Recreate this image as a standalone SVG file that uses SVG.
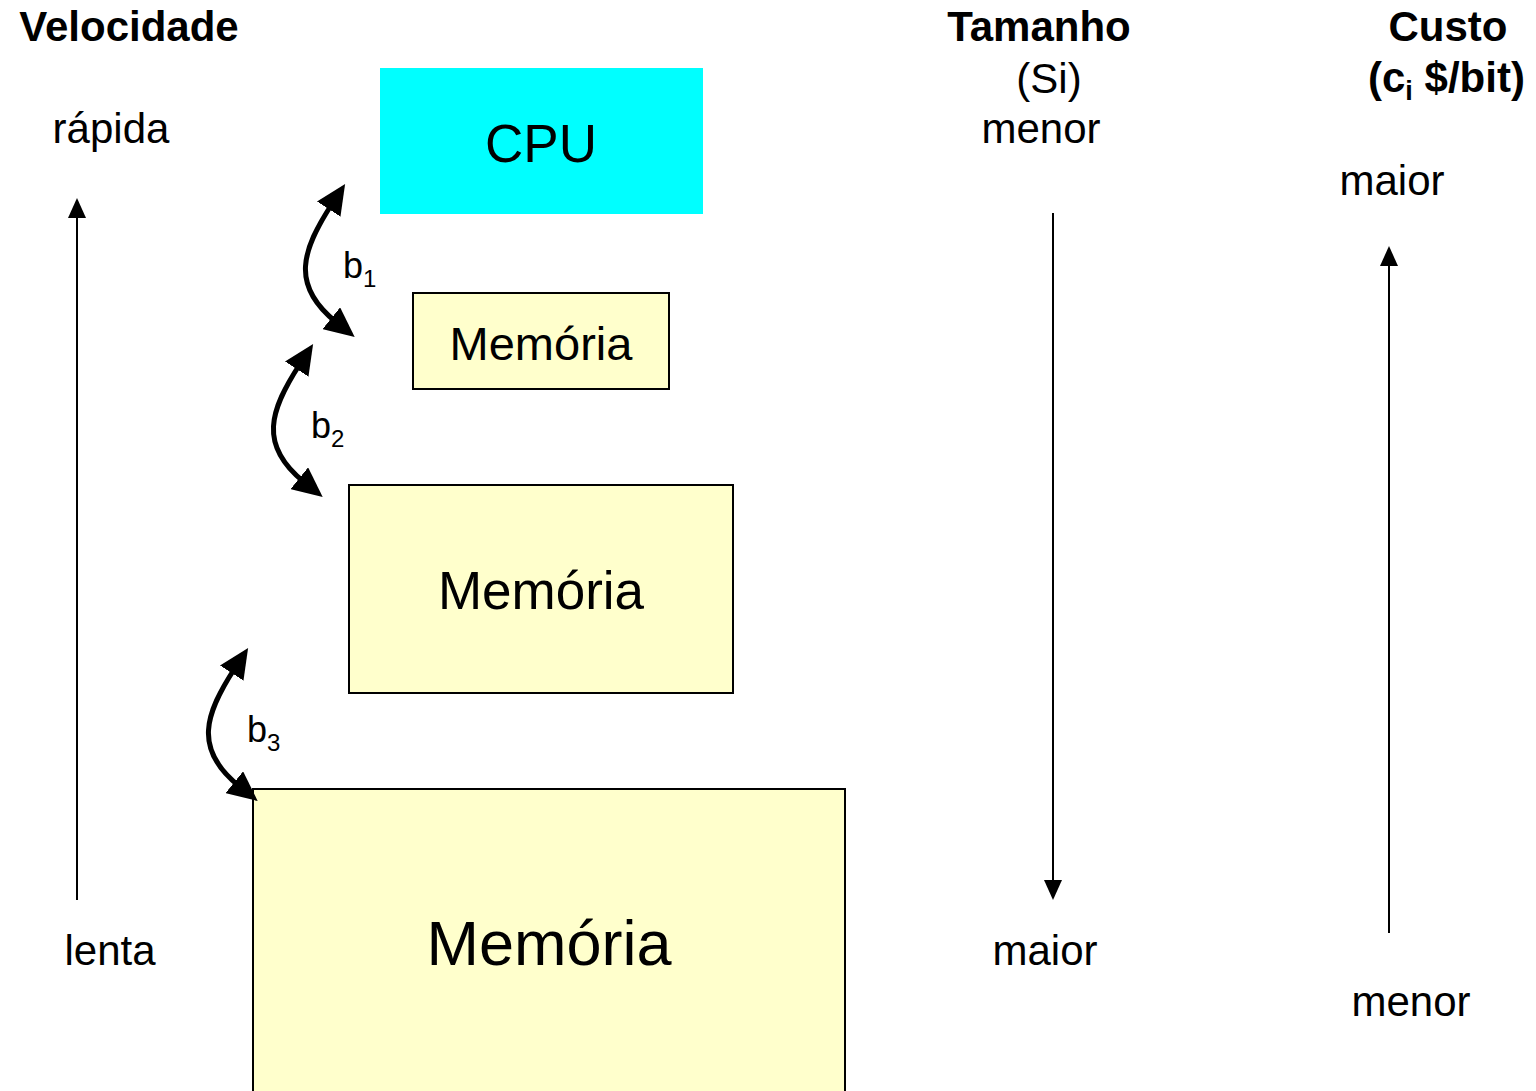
<svg xmlns="http://www.w3.org/2000/svg" width="1536" height="1091" viewBox="0 0 1536 1091">
<style>
text{font-family:"Liberation Sans",Arial,sans-serif;fill:#000}
.b{font-weight:bold;font-size:42px}
.r{font-size:42px}
.mem{fill:#FFFFCC;stroke:#000;stroke-width:2}
.ax{stroke:#000;stroke-width:2;fill:none}
.cv{stroke:#000;stroke-width:5;fill:none}
</style>
<defs>
<marker id="ah" markerUnits="userSpaceOnUse" markerWidth="20" markerHeight="20" refX="0" refY="9" orient="auto" viewBox="0 0 20 18">
<path d="M0,0 L20,9 L0,18 z" fill="#000"/>
</marker>
<marker id="bh" markerUnits="userSpaceOnUse" markerWidth="30" markerHeight="28" refX="6" refY="14" orient="auto-start-reverse" viewBox="0 0 30 28">
<path d="M0,0 L30,14 L0,28 z" fill="#000"/>
</marker>
</defs>
<rect width="1536" height="1091" fill="#fff"/>
<g id="labels">
<text class="b" x="129" y="41" text-anchor="middle">Velocidade</text>
<text class="r" x="111" y="143" text-anchor="middle">rápida</text>
<text class="r" x="110" y="965" text-anchor="middle">lenta</text>
<text class="b" x="1039" y="41" text-anchor="middle">Tamanho</text>
<text class="r" x="1049" y="93" text-anchor="middle">(Si)</text>
<text class="r" x="1041" y="143" text-anchor="middle">menor</text>
<text class="r" x="1045" y="965" text-anchor="middle">maior</text>
<text class="b" x="1448" y="41" text-anchor="middle">Custo</text>
<text class="b" x="1368" y="92">(c<tspan font-size="27" dy="8">i</tspan><tspan dy="-8"> $/bit)</tspan></text>
<text class="r" x="1392" y="195" text-anchor="middle">maior</text>
<text class="r" x="1411" y="1016" text-anchor="middle">menor</text>
</g>
<g id="cpu">
<rect x="380" y="68" width="323" height="146" fill="#00FFFF"/>
<text x="541" y="162" font-size="53" text-anchor="middle">CPU</text>
</g>
<g id="mem1">
<rect class="mem" x="413" y="293" width="256" height="96"/>
<text x="541" y="360" font-size="47" text-anchor="middle">Memória</text>
</g>
<g id="mem2">
<rect class="mem" x="349" y="485" width="384" height="208"/>
<text x="541" y="609" font-size="53" text-anchor="middle">Memória</text>
</g>
<g id="mem3">
<rect class="mem" x="253" y="789" width="592" height="320"/>
<text x="549" y="965" font-size="63" text-anchor="middle">Memória</text>
</g>
<g id="connectors">
<line class="ax" x1="77" y1="900" x2="77" y2="218" marker-end="url(#ah)"/>
<line class="ax" x1="1053" y1="213" x2="1053" y2="880" marker-end="url(#ah)"/>
<line class="ax" x1="1389" y1="933" x2="1389" y2="266" marker-end="url(#ah)"/>
<path class="cv" d="M332,204 C302,250 290,285 336,322" marker-start="url(#bh)" marker-end="url(#bh)"/>
<path class="cv" transform="translate(-32,160)" d="M332,204 C302,250 290,285 336,322" marker-start="url(#bh)" marker-end="url(#bh)"/>
<path class="cv" transform="translate(-97,464)" d="M332,204 C302,250 290,285 336,322" marker-start="url(#bh)" marker-end="url(#bh)"/>
</g>
<g id="blabels">
<text x="343" y="278" font-size="36">b<tspan font-size="24" dy="9">1</tspan></text>
<text x="311" y="438" font-size="36">b<tspan font-size="24" dy="9">2</tspan></text>
<text x="247" y="742" font-size="36">b<tspan font-size="24" dy="9">3</tspan></text>
</g>
</svg>
